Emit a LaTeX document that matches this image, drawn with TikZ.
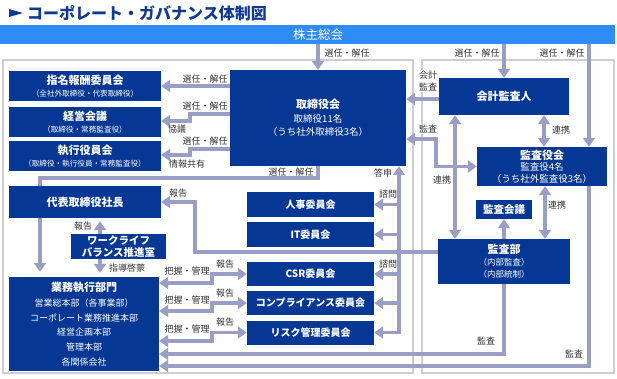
\documentclass[tikz,border=0pt]{standalone}
\usepackage{fontspec}
\setmainfont{Noto Sans CJK JP}
\usetikzlibrary{arrows.meta}
\definecolor{boxblue}{RGB}{4,56,148}
\definecolor{barblue}{RGB}{47,140,247}
\definecolor{titleblue}{RGB}{17,57,148}
\definecolor{arrowgray}{RGB}{155,158,196}
\definecolor{framegray}{RGB}{205,205,210}
\newcommand{\boxline}[2][8]{{\fontsize{#1}{#1}\selectfont\mdseries #2}}

\begin{document}
\begin{tikzpicture}[x=1pt,y=-1pt,
    box/.style={fill=boxblue,text=white,align=center,inner sep=0pt,
      font=\fontsize{11}{13.5}\selectfont\bfseries},
    cbox/.style={box,minimum width=127,font=\fontsize{10}{12}\selectfont\bfseries},
    lbl/.style={font=\fontsize{9}{12}\selectfont,text=black!80,inner sep=0.6pt,align=center},
    lblw/.style={lbl,fill=white},
    frame/.style={draw=framegray,line width=1.8pt},
    line/.style={draw=arrowgray,line width=3.5pt},
    arr/.style={line,-{Triangle[length=9pt,width=12pt]}},
    dbl/.style={line,{Triangle[length=9pt,width=12pt]}-{Triangle[length=9pt,width=12pt]}}]
  \useasboundingbox (0,0) rectangle (617,378);

  % title and shareholders
  \fill[titleblue] (9,9) -- (23,13) -- (9,17) -- cycle;
  \node[anchor=west,inner sep=0pt,text=titleblue,font=\fontsize{16}{16}\selectfont\bfseries] (title) at (27,13) {コーポレート・ガバナンス体制図};
  \node[fill=barblue,anchor=north west,minimum width=615,minimum height=19,inner sep=0pt] (bar) at (0,25) {};
  \node[text=white,font=\fontsize{12.5}{12.5}\selectfont] (barlabel) at (318,34.5) {株主総会};

  \draw[frame] (3,60) rectangle (413,373);
  \draw[frame] (422,60) rectangle (614,373);

  % boxes
  \node[box,minimum width=152,minimum height=30] (shimei) at (85,86) {指名報酬委員会\\[-1.5pt]\boxline[7.6]{（全社外取締役・代表取締役）}};
  \node[box,minimum width=152,minimum height=30] (keiei) at (85,122) {経営会議\\[-1.5pt]\boxline[7.6]{（取締役・常務監査役）}};
  \node[box,minimum width=152,minimum height=30] (shikko) at (85,156) {執行役員会\\[-1.5pt]\boxline[7.6]{（取締役・執行役員・常務監査役）}};
  \node[box,minimum width=176,minimum height=96] (board) at (318,118) {取締役会\\\boxline[9.5]{取締役11名}\\\boxline[9.5]{（うち社外取締役3名）}};
  \node[box,minimum width=152,minimum height=32] (ceo) at (85,202) {代表取締役社長};
  \node[box,minimum width=95,minimum height=25,font=\fontsize{10.5}{12}\selectfont\bfseries] (wlb) at (118.5,246.5) {ワークライフ\\バランス推進室};
  \node[box,minimum width=150,minimum height=94] (ops) at (84,324) {業務執行部門\\[1.5pt]\boxline[9]{営業総本部（各事業部）}\\[1.3pt]\boxline[9]{コーポレート業務推進本部}\\[1.3pt]\boxline[9]{経営企画本部}\\[1.3pt]\boxline[9]{管理本部}\\[1.3pt]\boxline[9]{各関係会社}};
  \node[cbox,minimum height=25] (jinji) at (310.5,204.5) {人事委員会};
  \node[cbox,minimum height=25] (itc) at (310.5,234.5) {IT委員会};
  \node[cbox,minimum height=24] (csr) at (310.5,274) {CSR委員会};
  \node[cbox,minimum height=24] (comp) at (310.5,303) {コンプライアンス委員会};
  \node[cbox,minimum height=24] (risk) at (310.5,332.5) {リスク管理委員会};
  \node[box,minimum width=130,minimum height=37] (auditor) at (504,96.5) {会計監査人};
  \node[box,minimum width=130,minimum height=39] (kansa) at (542,166.5) {監査役会\\[-2pt]\boxline[9.5]{監査役4名}\\[-2pt]\boxline[9.5]{（うち社外監査役3名）}};
  \node[box,minimum width=56,minimum height=19,font=\fontsize{10.5}{12}\selectfont\bfseries] (kaigi) at (504,209.5) {監査会議};
  \node[box,minimum width=132,minimum height=45] (naibu) at (504,261.5) {監査部\\[-1.5pt]\boxline[8.5]{（内部監査）}\\[-1.5pt]\boxline[8.5]{（内部統制）}};

  % connectors
  \draw[arr] (bar.south -| board.north) -- (board.north);
  \draw[arr] (bar.south -| auditor.north) -- (auditor.north);
  \draw[arr] (589,0 |- bar.south) -- (589,0 |- kansa.north);
  \draw[arr] (board.west |- shimei) -- (shimei.east);
  \draw[arr] (board.west |- 0,114) -- (190,114) -- (190,121) -- (keiei.east |- 0,121);
  \draw[arr] (board.west |- 0,149) -- (190,149) -- (190,155) -- (shikko.east |- 0,155);
  \draw[line] (board.south) |- (40,178) -- (40,0 |- ceo.north);
  \draw[arr,shorten >=5pt] (40,0 |- ceo.south) -- (40,0 |- ops.north);
  \draw[arr,shorten >=3pt] (100,0 |- wlb.north) -- (100,0 |- ceo.south);
  \draw[arr,shorten >=4pt] (100,0 |- wlb.south) -- (100,0 |- ops.north);
  \draw[arr] (naibu.west |- 0,252) -- (195,252) |- (ceo.east);
  \draw[dbl] (399,0 |- board.south) -- (399,0 |- risk.east) -- (risk.east);
  \draw[arr] (399,0 |- jinji.east) -- (jinji.east);
  \draw[arr] (399,0 |- itc.east) -- (itc.east);
  \draw[arr] (399,0 |- csr.east) -- (csr.east);
  \draw[arr] (399,0 |- comp.east) -- (comp.east);
  \draw[dbl] (ops.east |- 0,283) -- (212,283) |- (csr.west);
  \draw[dbl] (ops.east |- 0,311) -- (212,311) |- (comp.west);
  \draw[dbl] (ops.east |- 0,341) -- (212,341) |- (risk.west);
  \draw[arr] (naibu.south) |- (ops.east |- 0,354);
  \draw[arr] (589,0 |- kansa.south) |- (ops.east |- 0,366);
  \draw[arr] (auditor.west |- 0,99) -- (board.east |- 0,99);
  \draw[dbl] (board.east |- 0,139) -- (436,139) |- (kansa.west);
  \draw[dbl] (544,0 |- auditor.south) -- (544,0 |- kansa.north);
  \draw[dbl] (455,0 |- auditor.south) -- (455,0 |- naibu.north);
  \draw[dbl] (545,0 |- kansa.south) -- (545,0 |- naibu.north);
  \draw[arr] (naibu.north -| kaigi) -- (kaigi.south);

  % labels
  \node[lbl] (l1) at (347,53) {選任・解任};
  \node[lbl] (l2) at (477,53) {選任・解任};
  \node[lbl] (l3) at (562,53) {選任・解任};
  \node[lbl] (l4) at (205,79) {選任・解任};
  \node[lbl] (l5) at (205,106) {選任・解任};
  \node[lbl] (l6) at (177,129) {協議};
  \node[lbl] (l7) at (205,141) {選任・解任};
  \node[lbl] (l8) at (187,164) {情報共有};
  \node[lbl] (l9) at (291,172) {選任・解任};
  \node[lbl] (l10) at (383,173) {答申};
  \node[lbl] (l11) at (388,194) {諮問};
  \node[lbl] (l12) at (388,264) {諮問};
  \node[lbl] (l13) at (178,193) {報告};
  \node[lbl] (l14) at (83,226) {報告};
  \node[lbl] (l15) at (127,268) {指導啓蒙};
  \node[lbl] (l16) at (187,271) {把握・管理};
  \node[lbl] (l17) at (187,300) {把握・管理};
  \node[lbl] (l18) at (187,329) {把握・管理};
  \node[lbl] (l19) at (225,264) {報告};
  \node[lbl] (l20) at (225,293) {報告};
  \node[lbl] (l21) at (225,322) {報告};
  \node[lblw] (l22) at (428,81) {会計\\監査};
  \node[lblw] (l23) at (428,129) {監査};
  \node[lbl] (l24) at (561,130) {連携};
  \node[lbl] (l25) at (442,180) {連携};
  \node[lbl] (l26) at (557,205) {連携};
  \node[lbl] (l27) at (486,341) {監査};
  \node[lbl] (l28) at (574,354) {監査};
\end{tikzpicture}
\end{document}
